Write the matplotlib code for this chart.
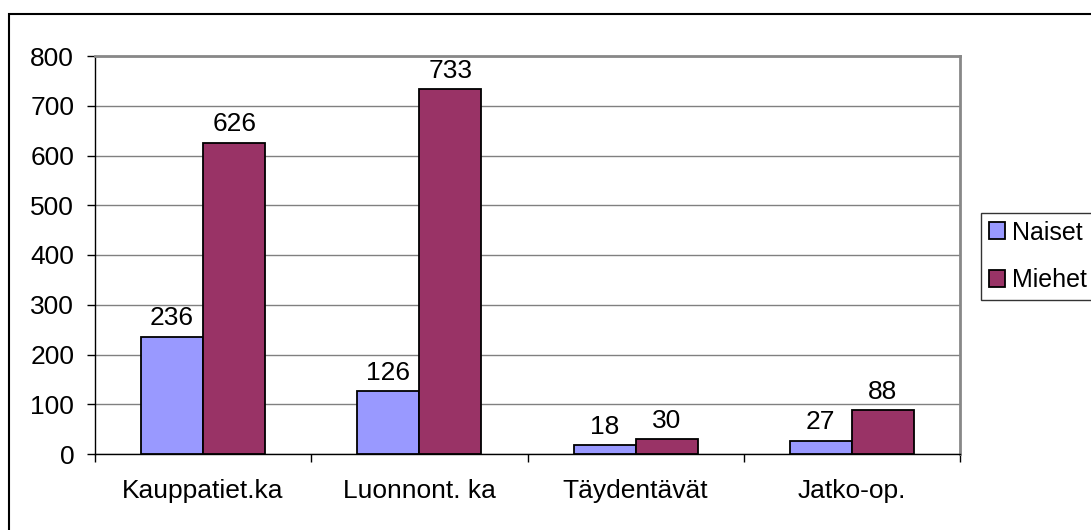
import numpy as np
import matplotlib
matplotlib.use("Agg")
import matplotlib.pyplot as plt
from matplotlib.patches import Rectangle

plt.rcParams['font.family'] = ['Liberation Sans', 'DejaVu Sans']

# data
categories = ['Kauppatiet.ka', 'Luonnont. ka', 'Täydentävät', 'Jatko-op.']
naiset = [236, 126, 18, 27]
miehet = [626, 733, 30, 88]
series_names = ['Naiset', 'Miehet']
yticks = [0, 100, 200, 300, 400, 500, 600, 700, 800]

W, H = 1091, 530
fig = plt.figure(figsize=(W / 100, H / 100), dpi=100)
ax = fig.add_axes([95 / W, 1 - 454 / H, 865 / W, 398 / H])

x = np.arange(len(categories))
bw = 0.287
b1 = ax.bar(x - bw / 2, naiset, bw, color='#9999FF', edgecolor='black', linewidth=1.3, label=series_names[0], zorder=3)
b2 = ax.bar(x + bw / 2, miehet, bw, color='#993366', edgecolor='black', linewidth=1.3, label=series_names[1], zorder=3)

fs = 19
for bars, vals in ((b1, naiset), (b2, miehet)):
    for r, v in zip(bars, vals):
        ax.annotate(str(v), (r.get_x() + r.get_width() / 2, r.get_height()),
                    xytext=(0, 4.5), textcoords='offset points',
                    ha='center', va='bottom', fontsize=fs, zorder=4)

ax.set_xlim(-0.5, len(categories) - 0.5)
ax.set_ylim(0, 800)
ax.set_yticks(yticks)
ax.yaxis.grid(True, color='#808080', linewidth=1, zorder=0)
ax.set_axisbelow(True)

ax.set_xticks(x)
ax.set_xticklabels(categories)
ax.set_xticks(np.arange(len(categories) + 1) - 0.5, minor=True)
ax.tick_params(axis='x', which='major', length=0, pad=18, labelsize=fs)
ax.tick_params(axis='x', which='minor', length=6, width=1, direction='out', color='black')
ax.tick_params(axis='y', length=6, width=1, direction='out', pad=9, labelsize=fs, color='black')

ax.spines['left'].set_color('black')
ax.spines['bottom'].set_color('black')
ax.spines['left'].set_linewidth(1)
ax.spines['bottom'].set_linewidth(1)
for s in ('top', 'right'):
    ax.spines[s].set_color('#888888')
    ax.spines[s].set_linewidth(2)

leg = fig.legend(loc='upper left', bbox_to_anchor=(981 / W, 1 - 213 / H),
                 fontsize=18, frameon=True, fancybox=False, borderaxespad=0,
                 handlelength=0.65, handleheight=0.65, handletextpad=0.3,
                 labelspacing=0.95, borderpad=0.3)
leg.get_frame().set_edgecolor('black')
leg.get_frame().set_linewidth(1)

# outer chart border
fig.patches.append(Rectangle((9 / W, -0.1), 1.1, 1.1 - 14 / H, transform=fig.transFigure,
                             fill=False, edgecolor='black', linewidth=1.5))

fig.savefig('out.png', dpi=100)
